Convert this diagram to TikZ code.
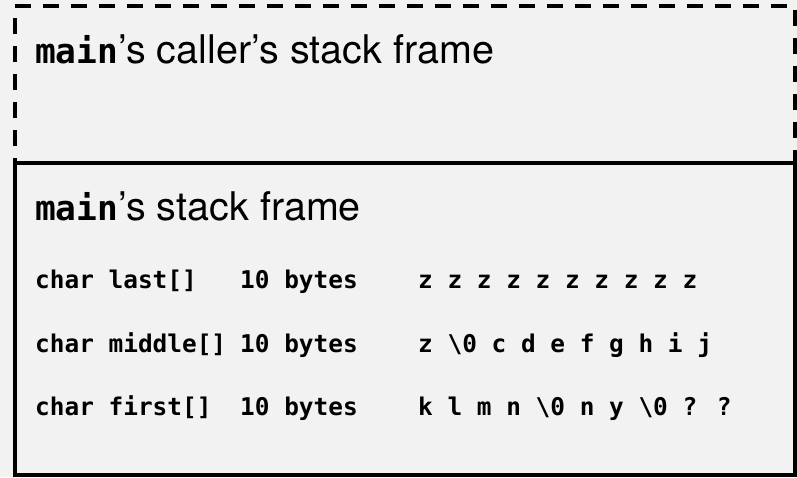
\documentclass[tikz,border=0pt]{standalone}
\usepackage{fontspec}
\setsansfont{TeX Gyre Heros}
\newfontfamily\codefont{DejaVu Sans Mono}
\definecolor{bgcol}{HTML}{F2F2F2}
\newcommand\mainword{{\codefont\bfseries\fontsize{34.5pt}{40pt}\selectfont main}}
\begin{document}
\begin{tikzpicture}[x=1pt,y=-1pt,
  frame/.style={line width=3.8pt, draw=black},
  dashedframe/.style={frame, dash pattern=on 16pt off 12pt},
  head/.style={anchor=base west, inner sep=0pt, font=\sffamily\fontsize{39.5pt}{46pt}\selectfont},
  code/.style={anchor=base west, inner sep=0pt, font=\codefont\bfseries\fontsize{24.4pt}{28pt}\selectfont}]
\fill[bgcol] (0,0) rectangle (797,477);
\useasboundingbox (0,0) rectangle (797,477);
% caller's frame (dashed)
\draw[dashedframe] (15,6) -- (795,6) -- (795,163) -- (15,163);
\draw[dashedframe] (15,18) -- (15,163);
% main's frame (solid)
\draw[frame] (15,163) rectangle (795,475);
% headings
\node[head] (callerhead) at (35,63) {\mainword’s caller’s stack frame};
\node[head] (mainhead) at (35,220) {\mainword’s stack frame};
% rows
\node[code] (lastname) at (35,288) {char last[]};
\node[code] (lastsize) at (240,288) {10 bytes};
\node[code] (lastval) at (418,288) {z z z z z z z z z z};
\node[code] (midname) at (35,352) {char middle[]};
\node[code] (midsize) at (240,352) {10 bytes};
\node[code] (midval) at (418,352) {z \textbackslash0 c d e f g h i j};
\node[code] (firstname) at (35,415) {char first[]};
\node[code] (firstsize) at (240,415) {10 bytes};
\node[code] (firstval) at (418,415) {k l m n \textbackslash0 n y \textbackslash0 ? ?};
\end{tikzpicture}
\end{document}
